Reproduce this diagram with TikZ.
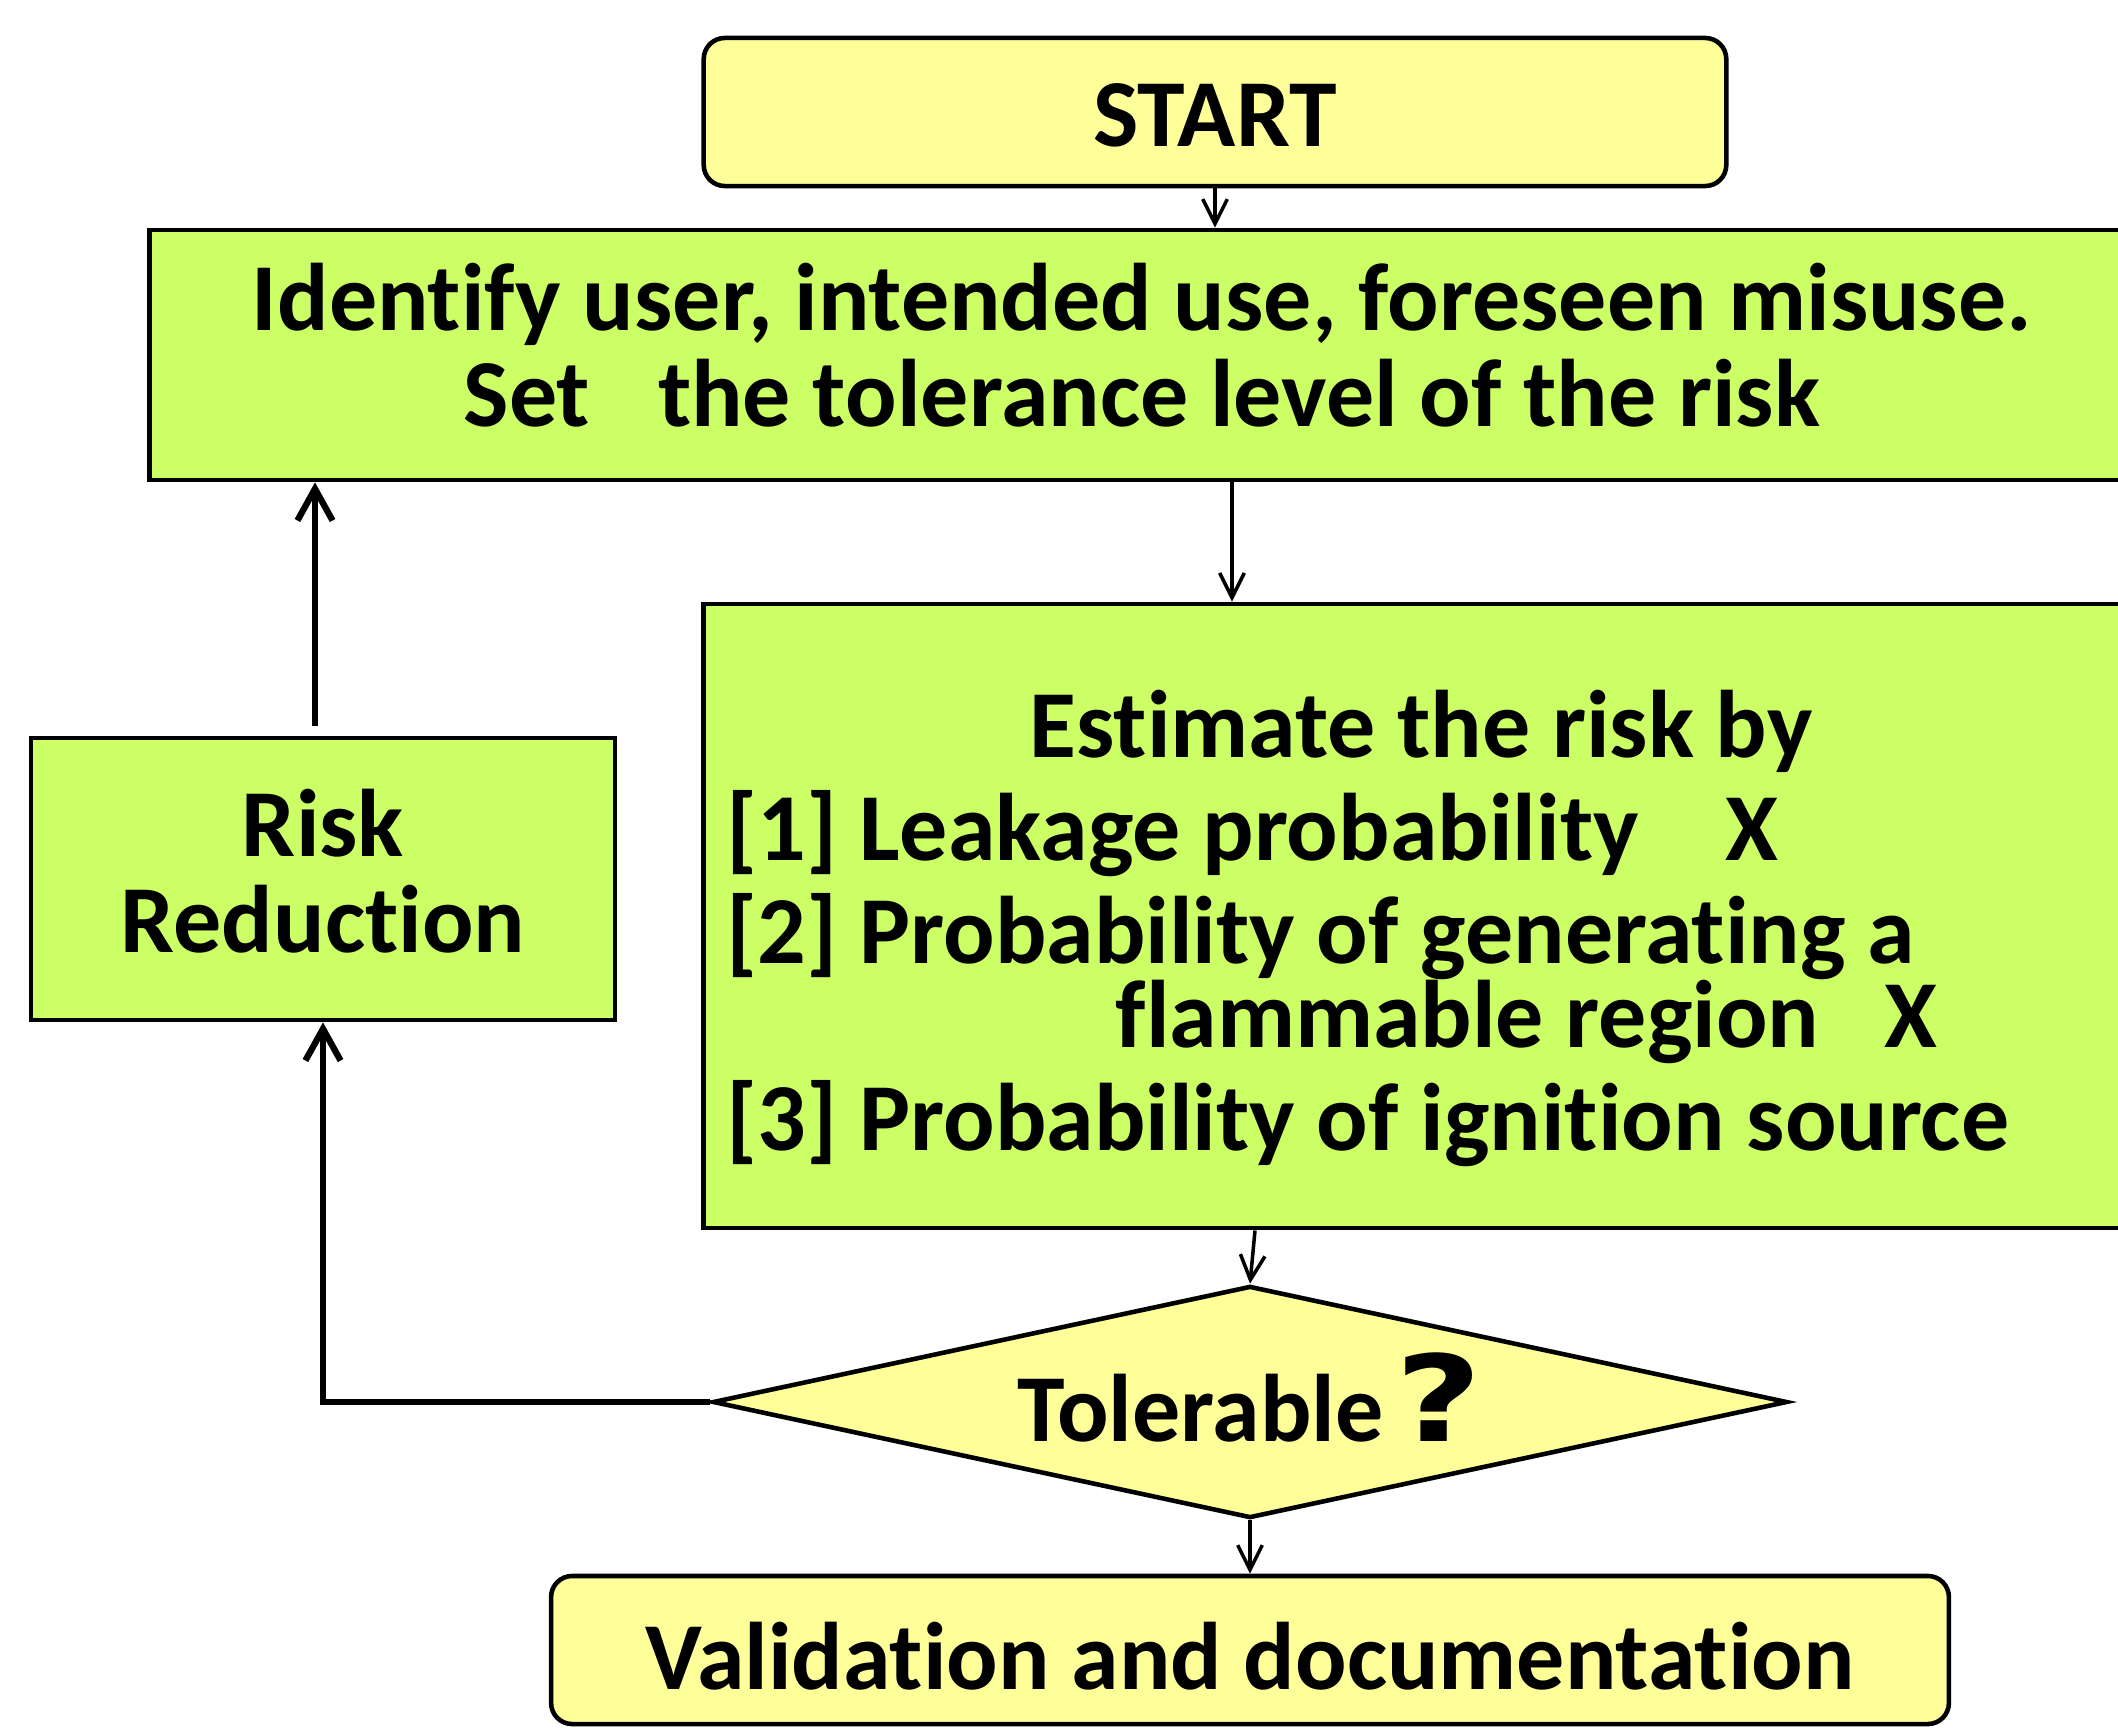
\documentclass[tikz,border=0pt]{standalone}
\usepackage{fontspec}
\setmainfont{Carlito}[Ligatures=NoCommon]
\newfontfamily\qmarkfont{DejaVu Sans}
\usetikzlibrary{shapes.geometric,arrows.meta}

\definecolor{termyellow}{HTML}{FFFF99}
\definecolor{stepgreen}{HTML}{CCFF66}

\newcommand{\flowfont}{\fontsize{27.3}{27.3}\selectfont\bfseries}

\tikzset{
  termbox/.style={draw, fill=termyellow, line width=1.3pt, rounded corners=6pt,
    inner sep=0pt, font=\flowfont},
  stepbox/.style={draw, fill=stepgreen, line width=1.3pt, inner sep=0pt,
    font=\flowfont, align=center},
  testbox/.style={draw, fill=termyellow, diamond, aspect=4.63, line width=1.3pt,
    inner sep=0pt, font=\flowfont},
  thinarrow/.style={line width=1pt, -{Straight Barb[length=7pt,width=7pt]}},
  thickarrow/.style={line width=1.8pt, -{Straight Barb[length=9pt,width=10pt]}},
}

\begin{document}
\begin{tikzpicture}[x=0.01cm,y=-0.01cm]
  \useasboundingbox (0,0) rectangle (2118,1727);
  \clip (0,0) rectangle (2118,1727);

  \node[termbox, minimum width=10.22cm, minimum height=1.48cm, text height=0.68cm, text depth=0pt]
    (start) at (1215,112) {START};
  \node[stepbox, minimum width=19.84cm, minimum height=2.5cm, text depth=0.2cm] (ident) at (1142,355)
    {Identify user, intended use, foreseen misuse.\\Set\hspace{0.68cm}the tolerance level of the risk};
  \node[stepbox, minimum width=14.34cm, minimum height=6.24cm] (est) at (1421,916)
    {\parbox{13.88cm}{\fontsize{27.3}{23.9}\selectfont\bfseries\setlength{\parskip}{5.4pt}%
      \lineskiplimit=-20pt\lineskip=0pt%
      \vspace*{0.06cm}%
      \makebox[\linewidth]{Estimate the risk by}\par
      \makebox[9.98cm][l]{[1] Leakage probability}X\par
      [2] Probability of generating a\\
      \hspace*{3.89cm}\makebox[7.68cm][l]{flammable region}X\par
      [3] Probability of ignition source}};
  \node[stepbox, minimum width=5.84cm, minimum height=2.82cm, text depth=0.16cm] (risk) at (323,879)
    {Risk\\Reduction};
  \node[testbox, minimum width=10.74cm, minimum height=2.32cm, text depth=0.1cm] (tol) at (1250,1402)
    {Tolerable\hspace{0.12cm}{\qmarkfont\fontsize{34}{34}\selectfont\scalebox{1.25}[1]{?}}};
  \node[termbox, minimum width=13.97cm, minimum height=1.48cm, text height=0.79cm, text depth=0pt]
    (valid) at (1250,1650) {Validation and documentation};

  \coordinate (downx) at (1232,0);
  \draw[thinarrow] (start.south) -- (start.south |- ident.north);
  \draw[thinarrow] (ident.south -| downx) -- (est.north -| downx);
  \draw[thinarrow] ([xshift=0.05cm]tol.north |- est.south) -- (tol.north);
  \draw[thinarrow] (tol.south) -- (valid.north);
  \draw[thickarrow] (tol.west) -| (risk.south);
  \draw[thickarrow] ([xshift=-0.08cm,yshift=0.1cm]risk.north) -- ([xshift=-0.08cm]risk.north |- ident.south);
\end{tikzpicture}
\end{document}
